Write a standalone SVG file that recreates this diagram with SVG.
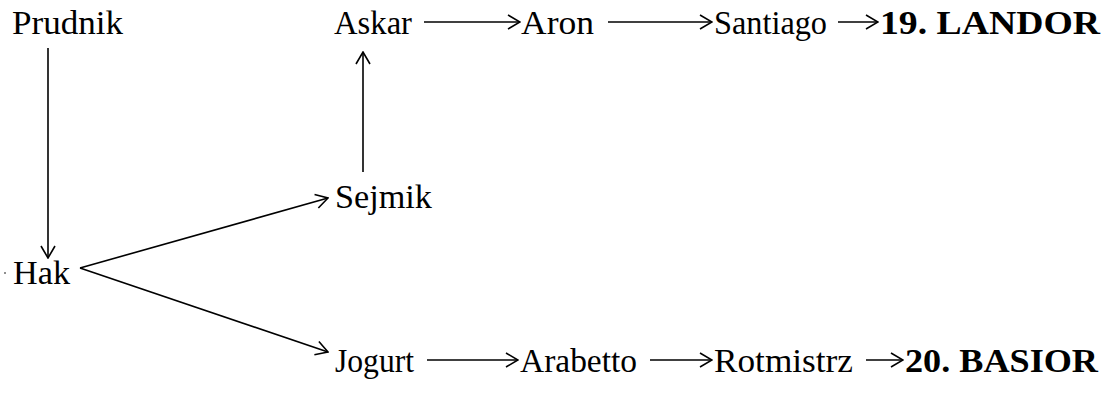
<svg xmlns="http://www.w3.org/2000/svg" width="1118" height="396" viewBox="0 0 1118 396">
<style>
text{font-family:"Liberation Serif","Times New Roman",serif;font-size:33px;fill:#000}
.b{font-weight:bold}
.c{stroke:#000;stroke-width:1.6;fill:none}
</style>
<defs>
<marker id="ah" viewBox="0 0 14 16" refX="13" refY="8" markerWidth="14" markerHeight="16" markerUnits="userSpaceOnUse" orient="auto">
<path d="M1,1 L13,8 L1,15" fill="none" stroke="#000" stroke-width="1.6"/>
</marker>
</defs>
<g id="connectors">
<line class="c" x1="48" y1="48" x2="48" y2="258" marker-end="url(#ah)"/>
<line class="c" x1="363" y1="172" x2="363" y2="52" marker-end="url(#ah)"/>
<line class="c" x1="80" y1="268" x2="328" y2="198" marker-end="url(#ah)"/>
<line class="c" x1="80" y1="268" x2="328" y2="352" marker-end="url(#ah)"/>
<line class="c" x1="424" y1="22" x2="520" y2="22" marker-end="url(#ah)"/>
<line class="c" x1="608" y1="22" x2="712" y2="22" marker-end="url(#ah)"/>
<line class="c" x1="838" y1="22" x2="878" y2="22" marker-end="url(#ah)"/>
<line class="c" x1="427" y1="360" x2="518" y2="360" marker-end="url(#ah)"/>
<line class="c" x1="650" y1="360" x2="712" y2="360" marker-end="url(#ah)"/>
<line class="c" x1="866" y1="360" x2="903" y2="360" marker-end="url(#ah)"/>
</g>
<g id="prudnik"><text x="12" y="34" textLength="111" lengthAdjust="spacingAndGlyphs">Prudnik</text></g>
<g id="askar"><text x="334" y="34" textLength="78" lengthAdjust="spacingAndGlyphs">Askar</text></g>
<g id="aron"><text x="521" y="34" textLength="73" lengthAdjust="spacingAndGlyphs">Aron</text></g>
<g id="santiago"><text x="714" y="34" textLength="113" lengthAdjust="spacingAndGlyphs">Santiago</text></g>
<g id="landor"><text class="b" x="880" y="34" textLength="220" lengthAdjust="spacingAndGlyphs">19. LANDOR</text></g>
<g id="sejmik"><text x="335" y="208" textLength="97" lengthAdjust="spacingAndGlyphs">Sejmik</text></g>
<g id="hak"><circle cx="5" cy="273" r="0.8" fill="#000"/><text x="13" y="284" textLength="57" lengthAdjust="spacingAndGlyphs">Hak</text></g>
<g id="jogurt"><text x="335" y="372" textLength="79" lengthAdjust="spacingAndGlyphs">Jogurt</text></g>
<g id="arabetto"><text x="520" y="372" textLength="117" lengthAdjust="spacingAndGlyphs">Arabetto</text></g>
<g id="rotmistrz"><text x="714" y="372" textLength="139" lengthAdjust="spacingAndGlyphs">Rotmistrz</text></g>
<g id="basior"><text class="b" x="905" y="372" textLength="193" lengthAdjust="spacingAndGlyphs">20. BASIOR</text></g>
</svg>
